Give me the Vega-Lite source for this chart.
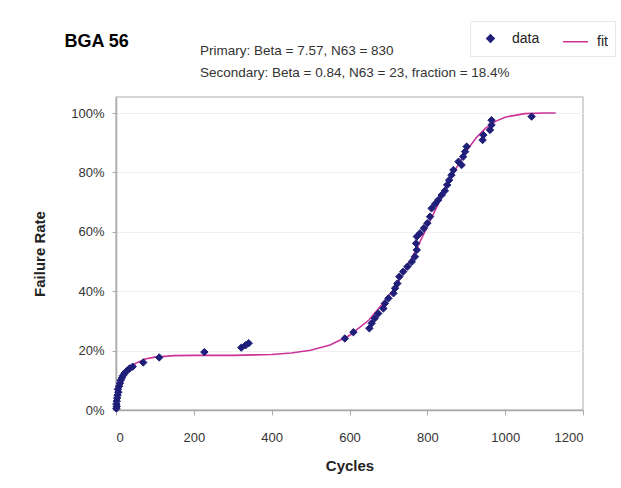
{
  "$schema": "https://vega.github.io/schema/vega-lite/v6.json",
  "width": 467,
  "height": 313,
  "autosize": {"type": "none"},
  "padding": {"left": 116, "top": 97, "right": 38, "bottom": 78},
  "background": "white",
  "config": {
    "font": "Liberation Sans",
    "view": {"stroke": "#c8c8c8", "strokeWidth": 1.5}
  },
  "title": {
    "text": "Primary: Beta = 7.57, N63 = 830",
    "subtitle": "Secondary: Beta = 0.84, N63 = 23, fraction = 18.4%",
    "anchor": "start",
    "frame": "group",
    "dx": 84,
    "dy": 78,
    "offset": 19,
    "fontSize": 13.5,
    "fontWeight": "normal",
    "color": "#333333",
    "subtitleFontSize": 13.5,
    "subtitleColor": "#333333",
    "subtitlePadding": 9
  },
  "datasets": {
    "fit": [
      {"cycles": 0, "rate": 0},
      {"cycles": 2, "rate": 0.022},
      {"cycles": 5, "rate": 0.045},
      {"cycles": 10, "rate": 0.072},
      {"cycles": 20, "rate": 0.108},
      {"cycles": 30, "rate": 0.131},
      {"cycles": 50, "rate": 0.157},
      {"cycles": 75, "rate": 0.172},
      {"cycles": 100, "rate": 0.178},
      {"cycles": 150, "rate": 0.183},
      {"cycles": 200, "rate": 0.184},
      {"cycles": 300, "rate": 0.184},
      {"cycles": 400, "rate": 0.187},
      {"cycles": 450, "rate": 0.192},
      {"cycles": 500, "rate": 0.201},
      {"cycles": 550, "rate": 0.219},
      {"cycles": 600, "rate": 0.251},
      {"cycles": 650, "rate": 0.303},
      {"cycles": 700, "rate": 0.381},
      {"cycles": 725, "rate": 0.43},
      {"cycles": 750, "rate": 0.487},
      {"cycles": 775, "rate": 0.55},
      {"cycles": 800, "rate": 0.617},
      {"cycles": 825, "rate": 0.686},
      {"cycles": 850, "rate": 0.754},
      {"cycles": 875, "rate": 0.816},
      {"cycles": 900, "rate": 0.871},
      {"cycles": 925, "rate": 0.916},
      {"cycles": 950, "rate": 0.949},
      {"cycles": 975, "rate": 0.972},
      {"cycles": 1000, "rate": 0.986},
      {"cycles": 1050, "rate": 0.998},
      {"cycles": 1100, "rate": 1.0},
      {"cycles": 1130, "rate": 1.0}
    ],
    "points": [
      {"cycles": 1, "rate": 0.005, "series": "data"},
      {"cycles": 2, "rate": 0.012, "series": "data"},
      {"cycles": 1, "rate": 0.02, "series": "data"},
      {"cycles": 2, "rate": 0.03, "series": "data"},
      {"cycles": 3, "rate": 0.04, "series": "data"},
      {"cycles": 4, "rate": 0.05, "series": "data"},
      {"cycles": 6, "rate": 0.06, "series": "data"},
      {"cycles": 5, "rate": 0.07, "series": "data"},
      {"cycles": 8, "rate": 0.08, "series": "data"},
      {"cycles": 10, "rate": 0.09, "series": "data"},
      {"cycles": 12, "rate": 0.1, "series": "data"},
      {"cycles": 15, "rate": 0.108, "series": "data"},
      {"cycles": 18, "rate": 0.116, "series": "data"},
      {"cycles": 22, "rate": 0.124, "series": "data"},
      {"cycles": 28, "rate": 0.132, "series": "data"},
      {"cycles": 35, "rate": 0.14, "series": "data"},
      {"cycles": 43, "rate": 0.146, "series": "data"},
      {"cycles": 70, "rate": 0.16, "series": "data"},
      {"cycles": 111, "rate": 0.177, "series": "data"},
      {"cycles": 227, "rate": 0.195, "series": "data"},
      {"cycles": 322, "rate": 0.21, "series": "data"},
      {"cycles": 333, "rate": 0.218, "series": "data"},
      {"cycles": 341, "rate": 0.225, "series": "data"},
      {"cycles": 588, "rate": 0.241, "series": "data"},
      {"cycles": 610, "rate": 0.262, "series": "data"},
      {"cycles": 651, "rate": 0.275, "series": "data"},
      {"cycles": 657, "rate": 0.292, "series": "data"},
      {"cycles": 665, "rate": 0.309, "series": "data"},
      {"cycles": 674, "rate": 0.325, "series": "data"},
      {"cycles": 687, "rate": 0.342, "series": "data"},
      {"cycles": 691, "rate": 0.359, "series": "data"},
      {"cycles": 700, "rate": 0.376, "series": "data"},
      {"cycles": 713, "rate": 0.393, "series": "data"},
      {"cycles": 717, "rate": 0.41, "series": "data"},
      {"cycles": 723, "rate": 0.426, "series": "data"},
      {"cycles": 728, "rate": 0.449, "series": "data"},
      {"cycles": 738, "rate": 0.466, "series": "data"},
      {"cycles": 749, "rate": 0.483, "series": "data"},
      {"cycles": 760, "rate": 0.499, "series": "data"},
      {"cycles": 768, "rate": 0.516, "series": "data"},
      {"cycles": 773, "rate": 0.539, "series": "data"},
      {"cycles": 771, "rate": 0.561, "series": "data"},
      {"cycles": 773, "rate": 0.584, "series": "data"},
      {"cycles": 781, "rate": 0.595, "series": "data"},
      {"cycles": 791, "rate": 0.612, "series": "data"},
      {"cycles": 800, "rate": 0.629, "series": "data"},
      {"cycles": 807, "rate": 0.651, "series": "data"},
      {"cycles": 811, "rate": 0.679, "series": "data"},
      {"cycles": 820, "rate": 0.694, "series": "data"},
      {"cycles": 828, "rate": 0.707, "series": "data"},
      {"cycles": 837, "rate": 0.724, "series": "data"},
      {"cycles": 845, "rate": 0.738, "series": "data"},
      {"cycles": 851, "rate": 0.758, "series": "data"},
      {"cycles": 856, "rate": 0.774, "series": "data"},
      {"cycles": 862, "rate": 0.791, "series": "data"},
      {"cycles": 867, "rate": 0.808, "series": "data"},
      {"cycles": 888, "rate": 0.825, "series": "data"},
      {"cycles": 880, "rate": 0.836, "series": "data"},
      {"cycles": 892, "rate": 0.853, "series": "data"},
      {"cycles": 897, "rate": 0.87, "series": "data"},
      {"cycles": 901, "rate": 0.887, "series": "data"},
      {"cycles": 942, "rate": 0.909, "series": "data"},
      {"cycles": 944, "rate": 0.926, "series": "data"},
      {"cycles": 961, "rate": 0.943, "series": "data"},
      {"cycles": 965, "rate": 0.96, "series": "data"},
      {"cycles": 965, "rate": 0.976, "series": "data"},
      {"cycles": 1068, "rate": 0.988, "series": "data"}
    ]
  },
  "layer": [
    {
      "data": {"name": "fit"},
      "mark": {"type": "line", "stroke": "#cc3399", "strokeWidth": 1.6},
      "encoding": {
        "x": {
          "field": "cycles", "type": "quantitative",
          "scale": {"domain": [0, 1200], "nice": false},
          "axis": {
            "values": [0, 200, 400, 600, 800, 1000, 1200],
            "format": "d",
            "grid": false,
            "labelFontSize": 13, "labelColor": "#333333", "labelPadding": 16,
            "tickSize": 5, "tickColor": "#aaaaaa", "domainColor": "#aaaaaa", "domainWidth": 1.5,
            "title": "Cycles", "titleFontSize": 15, "titleFontWeight": "bold", "titleColor": "#222222", "titlePadding": 14
          }
        },
        "y": {
          "field": "rate", "type": "quantitative",
          "scale": {"domain": [0, 1.054], "nice": false},
          "axis": {
            "values": [0, 0.2, 0.4, 0.6, 0.8, 1.0],
            "format": ".0%",
            "grid": true, "gridColor": "#f0f0f0",
            "labelFontSize": 13, "labelColor": "#333333", "labelPadding": 8,
            "tickSize": 4, "tickColor": "#aaaaaa", "domainColor": "#aaaaaa", "domainWidth": 1.5,
            "title": "Failure Rate", "titleFontSize": 15, "titleFontWeight": "bold", "titleColor": "#222222", "titlePadding": 23
          }
        }
      }
    },
    {
      "data": {"name": "points"},
      "mark": {"type": "point", "filled": true, "strokeWidth": 1, "opacity": 1},
      "encoding": {
        "x": {
          "field": "cycles", "type": "quantitative",
          "axis": {
            "orient": "top", "labels": false, "ticks": false, "domain": false, "grid": false,
            "title": "BGA 56", "titleFontSize": 18, "titleFontWeight": "bold", "titleColor": "#000000",
            "titleX": -52, "titleY": -51, "titleAlign": "left", "titleBaseline": "alphabetic"
          }
        },
        "y": {"field": "rate", "type": "quantitative"},
        "fill": {
          "field": "series", "type": "nominal",
          "scale": {"domain": ["data", "fit"], "range": ["#1f1f7a", "#cc3399"]},
          "legend": {
            "title": null, "orient": "none", "legendX": 354, "legendY": -76,
            "direction": "horizontal", "columns": 2, "columnPadding": 20,
            "labelFontSize": 14, "labelColor": "#222222", "labelOffset": 8,
            "strokeColor": "#e8e8e8", "padding": 7, "symbolStrokeWidth": 1.5
          }
        },
        "stroke": {
          "field": "series", "type": "nominal",
          "scale": {"domain": ["data", "fit"], "range": ["#1f1f7a", "#cc3399"]}
        },
        "shape": {
          "field": "series", "type": "nominal",
          "scale": {"domain": ["data", "fit"], "range": ["diamond", "stroke"]}
        },
        "size": {
          "field": "series", "type": "nominal",
          "scale": {"domain": ["data", "fit"], "range": [55, 625]}
        }
      }
    }
  ],
  "resolve": {"axis": {"x": "independent"}}
}
